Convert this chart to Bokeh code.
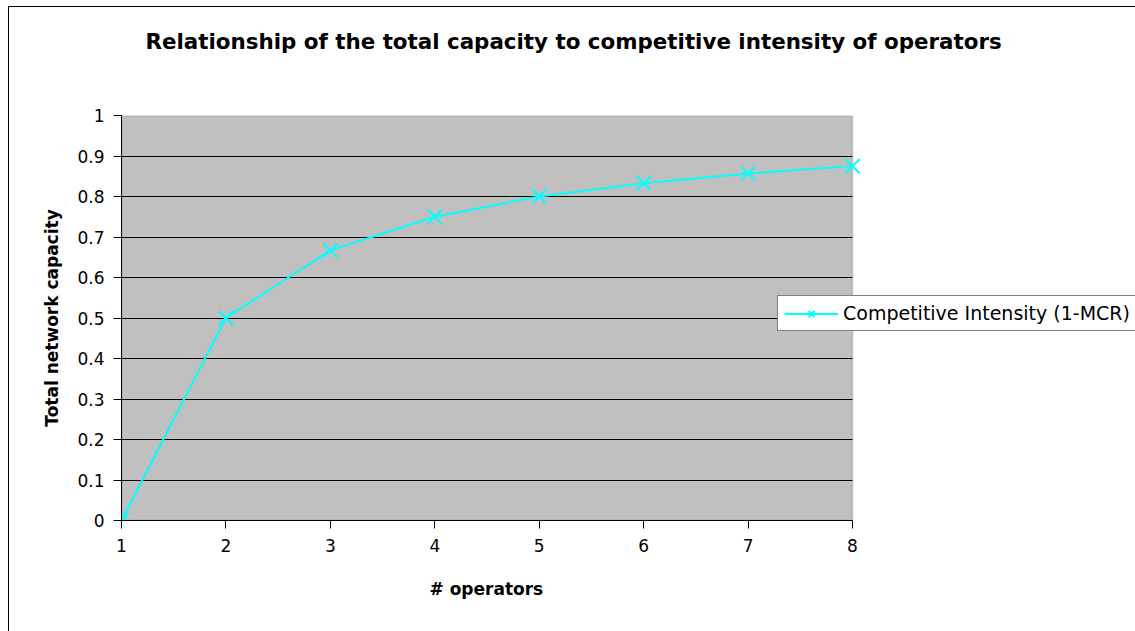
from bokeh.plotting import figure
from bokeh.models import (Legend, LegendItem, FixedTicker, Range1d, Title,
                          InlineStyleSheet, BoxAnnotation)
from bokeh.embed import file_html
from bokeh.resources import INLINE

operators = [1, 2, 3, 4, 5, 6, 7, 8]
capacity = [0.0, 0.5, 0.667, 0.75, 0.8, 0.833, 0.857, 0.875]
y_ticks = [0, 0.1, 0.2, 0.3, 0.4, 0.5, 0.6, 0.7, 0.8, 0.9, 1.0]
y_tick_labels = {0: "0", 0.1: "0.1", 0.2: "0.2", 0.3: "0.3", 0.4: "0.4", 0.5: "0.5",
                 0.6: "0.6", 0.7: "0.7", 0.8: "0.8", 0.9: "0.9", 1.0: "1"}
title_text = "Relationship of the total capacity to competitive intensity of operators"
x_label = "# operators"
y_label = "Total network capacity"
series_name = "Competitive Intensity (1-MCR)"

FONT = "DejaVu Sans"
CYAN = "#00FFFF"

x_lo, x_hi = min(operators), max(operators)
y_lo, y_hi = y_ticks[0], y_ticks[-1]
# frame spans the plot area plus the white strip on the right that holds the legend
px_per_unit = 731 / (x_hi - x_lo)
x_extra = 283 / px_per_unit

p = figure(width=1135, height=631, output_backend="svg", toolbar_location=None,
           x_range=Range1d(x_lo, x_hi + x_extra), y_range=Range1d(y_lo, y_hi),
           min_border_left=121, min_border_right=0, min_border_top=115,
           min_border_bottom=111)
p.background_fill_color = "white"
p.border_fill_color = "white"
p.outline_line_color = None

# gray plot area with gray top/right edge
plot_area = BoxAnnotation(left=x_lo, right=x_hi, bottom=y_lo, top=y_hi,
                          fill_color="#C0C0C0", fill_alpha=1,
                          line_color="#808080", line_width=2, level="image")
p.add_layout(plot_area)

# outer chart-area border (left and top edges visible in the reference)
p.stylesheets = [InlineStyleSheet(css=(
    ":host::after { content: ''; position: absolute; left: 8px; top: 6px; "
    "right: -2px; bottom: -2px; border-left: 1px solid black; "
    "border-top: 1px solid black; pointer-events: none; z-index: 5; }"))]

# axes
p.xaxis.ticker = FixedTicker(ticks=operators)
p.yaxis.ticker = FixedTicker(ticks=y_ticks)
p.yaxis.major_label_overrides = y_tick_labels
p.xaxis.bounds = (x_lo, x_hi)
for ax in (p.xaxis, p.yaxis):
    ax.axis_line_color = "black"
    ax.axis_line_width = 1
    ax.major_tick_line_color = "black"
    ax.major_tick_out = 8
    ax.major_tick_in = 0
    ax.minor_tick_line_color = None
    ax.major_label_text_font = FONT
    ax.major_label_text_font_size = "17px"
    ax.major_label_text_color = "black"
    ax.axis_label_text_font = FONT
    ax.axis_label_text_font_size = "17px"
    ax.axis_label_text_font_style = "bold"
    ax.axis_label_text_color = "black"
p.xaxis.major_label_standoff = 10
p.yaxis.major_label_standoff = 9
p.yaxis.axis_label = y_label
p.yaxis.axis_label_standoff = 12

p.xgrid.grid_line_color = None
p.ygrid.ticker = FixedTicker(ticks=y_ticks[1:-1])
p.ygrid.grid_line_color = "black"
p.ygrid.grid_line_width = 1
p.ygrid.cross_bounds = (x_lo, x_hi)

r_line = p.line(operators, capacity, line_color=CYAN, line_width=2)
r_mark = p.scatter(operators, capacity, marker="x", size=20, line_color=CYAN, line_width=2)

legend = Legend(items=[LegendItem(label=series_name, renderers=[r_line, r_mark])],
                location=(656, 189), orientation="vertical")
legend.label_text_font = FONT
legend.label_text_font_size = "19px"
legend.label_text_color = "black"
legend.label_height = 21
legend.glyph_height = 21
legend.border_line_color = "black"
legend.border_line_width = 1
legend.background_fill_color = "white"
legend.background_fill_alpha = 1
legend.glyph_width = 54
legend.padding = 6
legend.margin = 0
legend.label_standoff = 5
p.add_layout(legend, "center")

# blank spacer below the tick labels, then the x-axis title centred under the gray area
p.add_layout(Title(text=" ", text_font=FONT, text_font_size="17px", standoff=0), "below")
x_title = Title(text=x_label, align="left", offset=308, standoff=0,
                text_font=FONT, text_font_size="17px", text_font_style="bold",
                text_color="black")
p.add_layout(x_title, "below")

# blank spacer above the frame, then the chart title
p.add_layout(Title(text=" ", text_font=FONT, text_font_size="21.4px", standoff=35), "above")
title = Title(text=title_text, align="left", offset=24, standoff=0,
              text_font=FONT, text_font_size="21.4px", text_font_style="bold",
              text_color="black")
p.add_layout(title, "above")

open("out.html", "w").write(file_html(p, INLINE))
